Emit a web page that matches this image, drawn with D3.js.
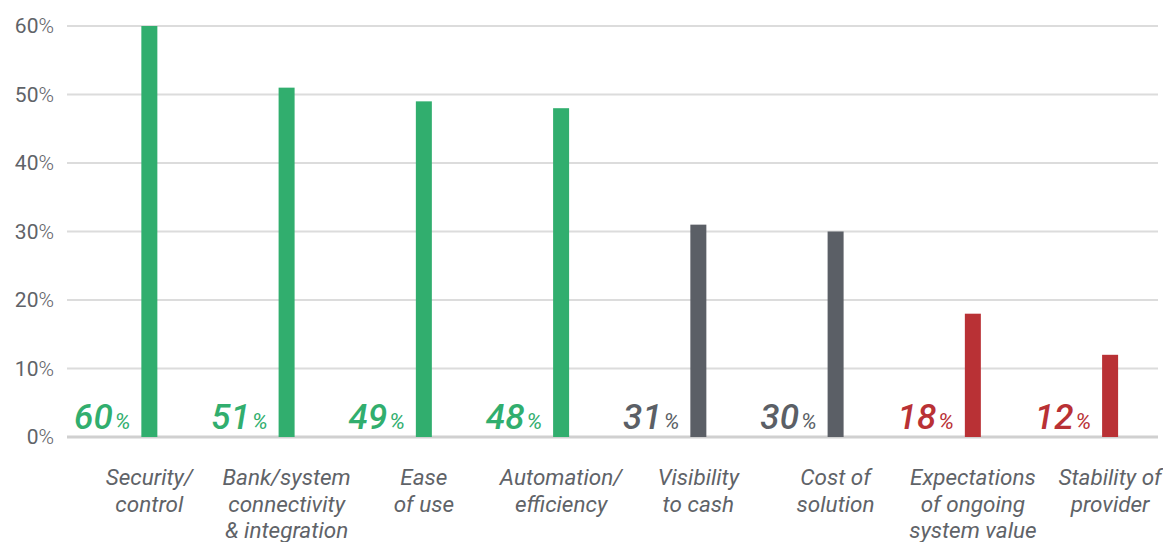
<!DOCTYPE html>
<html><head><meta charset="utf-8">
<script src="https://cdn.jsdelivr.net/npm/d3@7"></script>
<style>body{margin:0;background:#fff}svg{display:block}text{font-family:Roboto,sans-serif}</style>
</head><body>
<svg id="c" width="1163" height="542"></svg>
<script>
const categories = [
  ["Security/", "control"],
  ["Bank/system", "connectivity", "& integration"],
  ["Ease", "of use"],
  ["Automation/", "efficiency"],
  ["Visibility", "to cash"],
  ["Cost of", "solution"],
  ["Expectations", "of ongoing", "system value"],
  ["Stability of", "provider"]
];
const values = [60, 51, 49, 48, 31, 30, 18, 12];
const groups = ["high", "high", "high", "high", "mid", "mid", "low", "low"];
const tickValues = [0, 10, 20, 30, 40, 50, 60];
const colors = {high: "#31ae6e", mid: "#5b5f66", low: "#b93135"};

const svg = d3.select("#c");
const x = d3.scaleBand().domain(d3.range(values.length)).range([67, 1165]);
const y = d3.scaleLinear().domain([0, 60]).range([437, 26]);
const barW = 16;
const cx = i => x(i) + x.bandwidth() * 0.6;

// gridlines
svg.append("g").selectAll("line").data(tickValues).join("line")
  .attr("x1", 67).attr("x2", 1158)
  .attr("y1", d => y(d)).attr("y2", d => y(d))
  .attr("stroke", d => d === 0 ? "#d0d0d0" : "#dcdcdc")
  .attr("stroke-width", d => d === 0 ? 3 : 2);

// y tick labels
const yt = svg.append("g").selectAll("text").data(tickValues).join("text")
  .attr("x", 54).attr("y", d => y(d) + 7)
  .attr("text-anchor", "end").attr("fill", "#5f6368").attr("font-size", 21);
yt.append("tspan").text(d => d);
yt.append("tspan").attr("font-weight", 300).text("%");

// bars
svg.append("g").selectAll("rect").data(values).join("rect")
  .attr("x", (d, i) => cx(i) - barW / 2).attr("width", barW)
  .attr("y", d => y(d)).attr("height", d => y(0) - y(d))
  .attr("fill", (d, i) => colors[groups[i]]);

// value labels
const vl = svg.append("g").selectAll("text").data(values).join("text")
  .attr("x", (d, i) => cx(i) - barW / 2 - 11).attr("y", 429)
  .attr("text-anchor", "end").attr("font-style", "italic")
  .attr("fill", (d, i) => colors[groups[i]]);
vl.append("tspan").attr("font-size", 35).attr("font-weight", 500).text(d => d);
vl.append("tspan").attr("font-size", 22).attr("font-weight", 400).attr("dx", 2).text("%");

// category labels
const cl = svg.append("g").selectAll("text").data(categories).join("text")
  .attr("text-anchor", "middle").attr("font-style", "italic")
  .attr("font-size", 22.5).attr("fill", "#5f6368");
cl.selectAll("tspan").data((d, i) => d.map(t => ({t, i}))).join("tspan")
  .attr("x", d => cx(d.i)).attr("y", (d, j) => 485 + j * 26.5).text(d => d.t);
</script>
</body></html>
